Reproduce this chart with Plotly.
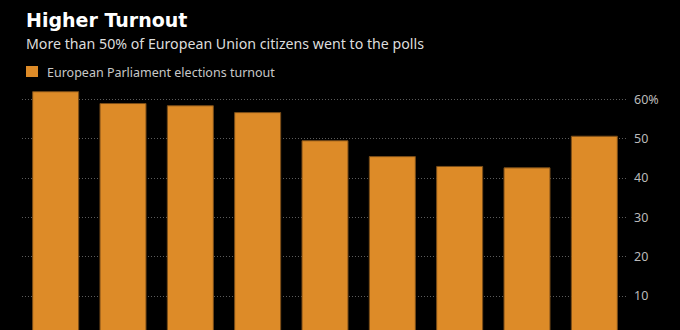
import plotly.graph_objects as go

# European Parliament election turnout, %
years = ["1979", "1984", "1989", "1994", "1999", "2004", "2009", "2014", "2019"]
turnout = [61.99, 58.98, 58.41, 56.67, 49.51, 45.47, 42.97, 42.61, 50.66]

y_ticks = [10, 20, 30, 40, 50, 60]
y_tick_labels = ["10", "20", "30", "40", "50", "60%"]

title = "Higher Turnout"
subtitle = "More than 50% of European Union citizens went to the polls"
series_name = "European Parliament elections turnout"

BAR = "#dd8b28"
BG = "#000000"
FONT = "Noto Sans"
TITLE_FONT = "DejaVu Sans"

W, H = 680, 330
L, R, T, B = 22, 52, 88, 0


def px_x(px):
    """Convert a page x pixel to paper coordinates."""
    return (px - L) / (W - L - R)


def px_y(py):
    """Convert a page y pixel to paper coordinates."""
    return (H - B - py) / (H - T - B)


fig = go.Figure(
    go.Bar(
        x=years,
        y=turnout,
        name=series_name,
        marker=dict(color=BAR, line=dict(color="#7a4d18", width=1)),
        showlegend=False,
        hovertemplate="%{x}: %{y:.2f}%<extra></extra>",
    )
)

fig.update_layout(
    width=W,
    height=H,
    margin=dict(l=L, r=R, t=T, b=B),
    paper_bgcolor=BG,
    plot_bgcolor=BG,
    bargap=0.317,
    font=dict(family=FONT, color="#bbbbbb", size=12),
    xaxis=dict(
        type="category",
        showticklabels=False,
        showgrid=False,
        zeroline=False,
        showline=False,
        ticks="",
        range=[-0.5, len(years) - 0.5],
    ),
    yaxis=dict(
        side="right",
        range=[1.35, 62.93],
        tickvals=y_ticks,
        ticktext=y_tick_labels,
        showgrid=True,
        gridcolor="#5c5c5c",
        gridwidth=1,
        griddash="1px,2px",
        zeroline=False,
        showline=False,
        ticks="",
        ticklabelstandoff=5,
        tickfont=dict(size=12.5, color="#bbbbbb", family=FONT),
    ),
    annotations=[
        dict(
            text=f"<b>{title}</b>",
            xref="paper", yref="paper",
            x=px_x(24), y=px_y(7),
            xanchor="left", yanchor="top",
            showarrow=False,
            font=dict(size=19, color="#ffffff", family=TITLE_FONT),
        ),
        dict(
            text=subtitle,
            xref="paper", yref="paper",
            x=px_x(24), y=px_y(32),
            xanchor="left", yanchor="top",
            showarrow=False,
            font=dict(size=14.2, color="#dddddd", family=FONT),
        ),
        dict(
            text=series_name,
            xref="paper", yref="paper",
            x=px_x(45), y=px_y(62),
            xanchor="left", yanchor="top",
            showarrow=False,
            font=dict(size=12.5, color="#c8c8c8", family=FONT),
        ),
    ],
    shapes=[
        dict(
            type="rect",
            xref="paper", yref="paper",
            x0=px_x(26), x1=px_x(38),
            y0=px_y(77), y1=px_y(66),
            fillcolor=BAR,
            line=dict(width=0),
        )
    ],
)

fig.write_html("out.html")
